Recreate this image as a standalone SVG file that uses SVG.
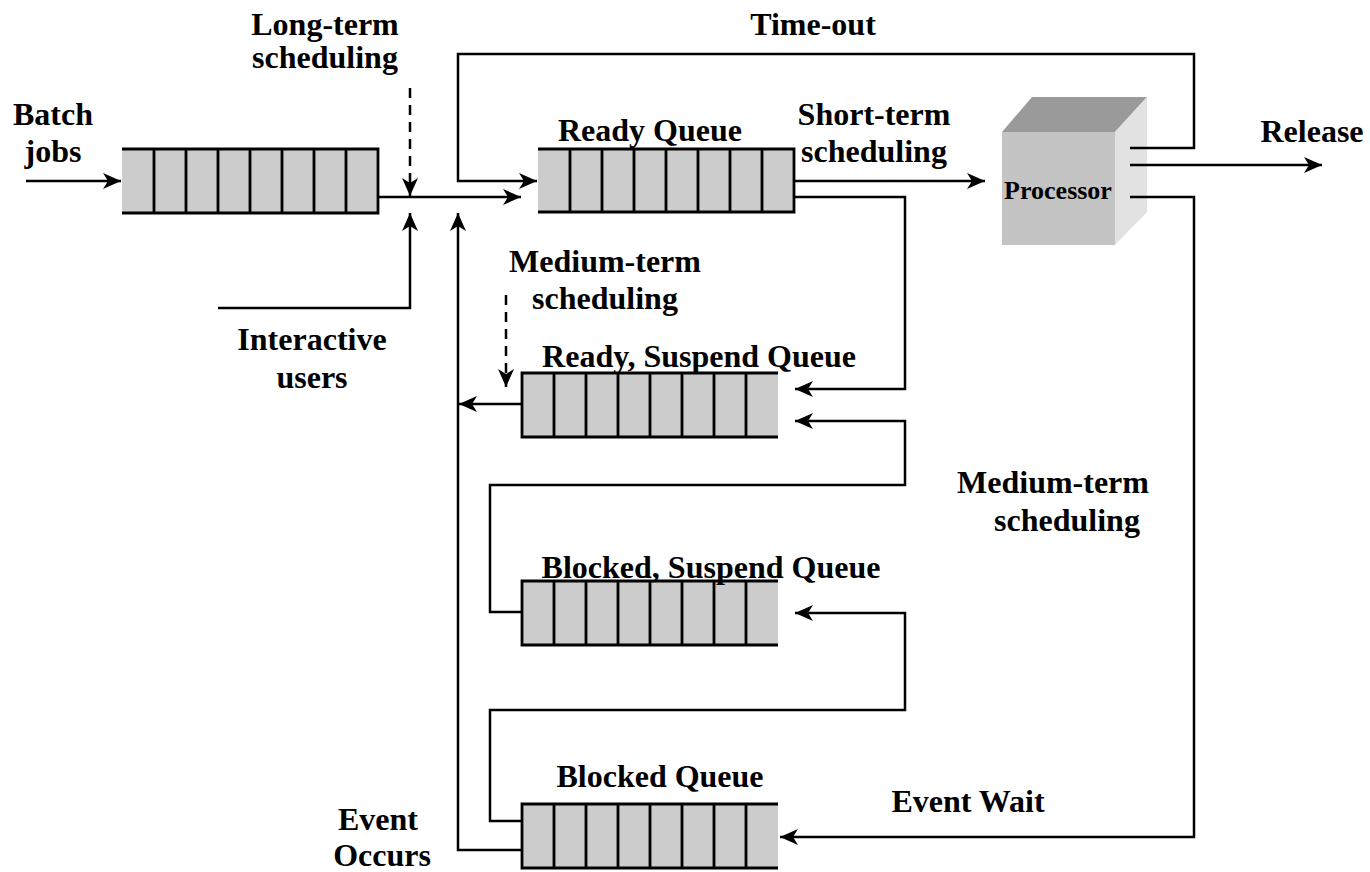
<svg xmlns="http://www.w3.org/2000/svg" width="1370" height="872" viewBox="0 0 1370 872">
<style>
text{font-family:"Liberation Serif","Times New Roman",serif;font-weight:bold;font-size:32px;fill:#000;text-anchor:middle}
.qf{fill:#cccccc;stroke:none}
.qb{fill:none;stroke:#000;stroke-width:2.8}
.c{fill:none;stroke:#000;stroke-width:2.5}
.d{fill:none;stroke:#000;stroke-width:2.5;stroke-dasharray:10,7}
</style>
<defs>
<marker id="ah" viewBox="0 0 18 16" refX="18" refY="8" markerWidth="18" markerHeight="16" markerUnits="userSpaceOnUse" orient="auto">
<path d="M0,0 L18,8 L0,16 L5,8 z" fill="#000"/>
</marker>
</defs>
<rect width="1370" height="872" fill="#fff"/>

<g id="batch-queue">
<rect class="qf" x="122" y="149" width="256" height="64"/>
<path class="qb" d="M122,149 H378 V213 H122 M154,149 V213 M186,149 V213 M218,149 V213 M250,149 V213 M282,149 V213 M314,149 V213 M346,149 V213"/>
</g>
<g id="ready-queue">
<rect class="qf" x="538" y="149" width="256" height="63"/>
<path class="qb" d="M538,149 H794 V212 H538 M570,149 V212 M602,149 V212 M634,149 V212 M666,149 V212 M698,149 V212 M730,149 V212 M762,149 V212"/>
<text x="650" y="141">Ready Queue</text>
</g>
<g id="ready-suspend-queue">
<rect class="qf" x="522" y="373" width="256" height="64"/>
<path class="qb" d="M778,373 H522 V437 H778 M554,373 V437 M586,373 V437 M618,373 V437 M650,373 V437 M682,373 V437 M714,373 V437 M746,373 V437"/>
<text x="699" y="367">Ready, Suspend Queue</text>
</g>
<g id="blocked-suspend-queue">
<rect class="qf" x="522" y="581" width="256" height="64"/>
<path class="qb" d="M778,581 H522 V645 H778 M554,581 V645 M586,581 V645 M618,581 V645 M650,581 V645 M682,581 V645 M714,581 V645 M746,581 V645"/>
<text x="711" y="578">Blocked, Suspend Queue</text>
</g>
<g id="blocked-queue">
<rect class="qf" x="522" y="804" width="256" height="64"/>
<path class="qb" d="M778,804 H522 V868 H778 M554,804 V868 M586,804 V868 M618,804 V868 M650,804 V868 M682,804 V868 M714,804 V868 M746,804 V868"/>
<text x="660" y="787">Blocked Queue</text>
</g>
<g id="processor">
<polygon points="1002,132 1032,97 1147,97 1115,132" fill="#9a9a9a"/>
<polygon points="1115,132 1147,97 1147,212 1115,245" fill="#e2e2e2"/>
<rect x="1002" y="132" width="113" height="113" fill="#c4c4c4"/>
<text x="1058" y="199" style="font-size:26px">Processor</text>
</g>

<g id="labels">
<text x="53" y="125">Batch</text>
<text x="53" y="162">jobs</text>
<text x="325" y="35">Long-term</text>
<text x="325" y="68">scheduling</text>
<text x="813" y="35">Time-out</text>
<text x="874" y="125">Short-term</text>
<text x="874" y="162">scheduling</text>
<text x="1312" y="142">Release</text>
<text x="312" y="350">Interactive</text>
<text x="312" y="388">users</text>
<text x="605" y="272">Medium-term</text>
<text x="605" y="309">scheduling</text>
<text x="1053" y="493">Medium-term</text>
<text x="1067" y="531">scheduling</text>
<text x="968" y="812">Event Wait</text>
<text x="378" y="830">Event</text>
<text x="382" y="866">Occurs</text>
</g>

<g id="connectors">
<path class="c" marker-end="url(#ah)" d="M26,181 H121"/>
<path class="c" marker-end="url(#ah)" d="M378,197 H521"/>
<path class="d" marker-end="url(#ah)" d="M410,88 V196"/>
<path class="c" marker-end="url(#ah)" d="M218,308 H410 V213"/>
<path class="c" marker-end="url(#ah)" d="M522,850 H458 V213"/>
<path class="c" marker-end="url(#ah)" d="M522,404 H459"/>
<path class="d" marker-end="url(#ah)" d="M506,295 V387"/>
<path class="c" marker-end="url(#ah)" d="M1130,148 H1194 V54 H458 V181 H537"/>
<path class="c" marker-end="url(#ah)" d="M794,181 H985"/>
<path class="c" marker-end="url(#ah)" d="M794,197 H905 V389 H795"/>
<path class="c" marker-end="url(#ah)" d="M522,612 H490 V485 H905 V421 H795"/>
<path class="c" marker-end="url(#ah)" d="M522,821 H490 V710 H905 V613 H795"/>
<path class="c" marker-end="url(#ah)" d="M1130,165 H1322"/>
<path class="c" marker-end="url(#ah)" d="M1130,197 H1194 V837 H780"/>
</g>
</svg>
